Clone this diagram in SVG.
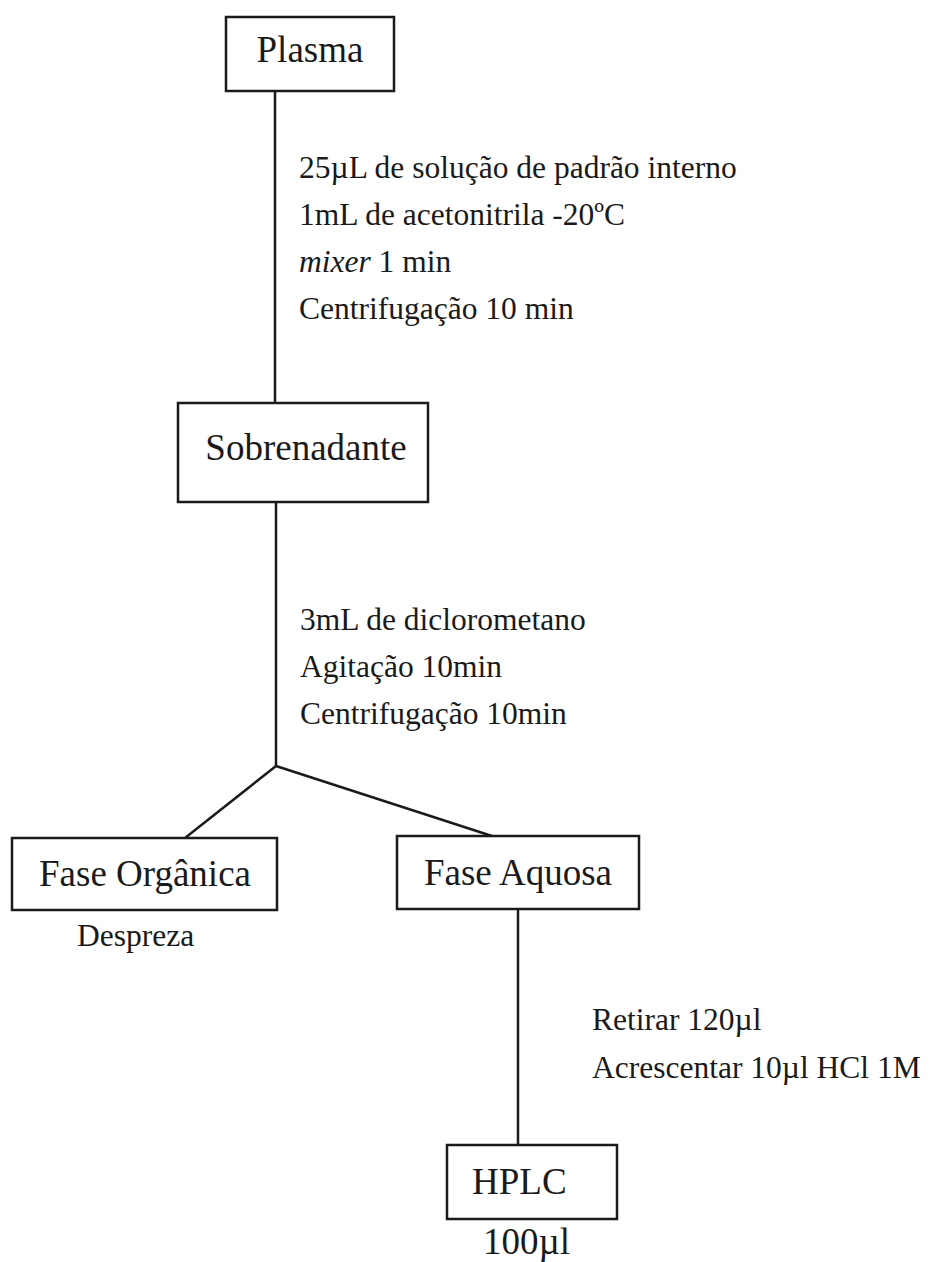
<svg xmlns="http://www.w3.org/2000/svg" width="930" height="1262" viewBox="0 0 930 1262">
<style>
.box{fill:#fff;stroke:#1a1a1a;stroke-width:2.5}
.conn{stroke:#1a1a1a;stroke-width:2.5;fill:none}
.lbl{font-family:"Liberation Serif","Times New Roman",serif;fill:#1a1a1a;font-size:37px}
.note{font-family:"Liberation Serif","Times New Roman",serif;fill:#1a1a1a;font-size:31.5px}
</style>
<rect width="930" height="1262" fill="#fff"/>
<g id="connectors">
<line class="conn" x1="275" y1="91" x2="275" y2="403"/>
<line class="conn" x1="276" y1="502" x2="276" y2="766"/>
<line class="conn" x1="276" y1="766" x2="185" y2="838"/>
<line class="conn" x1="276" y1="766" x2="492" y2="836"/>
<line class="conn" x1="518" y1="909" x2="518" y2="1145"/>
</g>
<g id="notes1">
<text class="note" x="299" y="178">25µL de solução de padrão interno</text>
<text class="note" x="299" y="225">1mL de acetonitrila -20ºC</text>
<text class="note" x="299" y="272"><tspan font-style="italic">mixer</tspan> 1 min</text>
<text class="note" x="299" y="319">Centrifugação 10 min</text>
</g>
<g id="notes2">
<text class="note" x="300" y="630">3mL de diclorometano</text>
<text class="note" x="300" y="677">Agitação 10min</text>
<text class="note" x="300" y="724">Centrifugação 10min</text>
</g>
<g id="notes3">
<text class="note" x="592" y="1030">Retirar 120µl</text>
<text class="note" x="592" y="1078">Acrescentar 10µl HCl 1M</text>
</g>
<g id="plasma">
<rect class="box" x="226" y="17" width="168" height="74"/>
<text class="lbl" x="310" y="62" text-anchor="middle">Plasma</text>
</g>
<g id="sobrenadante">
<rect class="box" x="178" y="403" width="250" height="99"/>
<text class="lbl" x="306" y="460" text-anchor="middle">Sobrenadante</text>
</g>
<g id="fase-organica">
<rect class="box" x="12" y="838" width="265" height="72"/>
<text class="lbl" x="145" y="886" text-anchor="middle">Fase Orgânica</text>
<text class="note" x="77" y="946" font-size="30">Despreza</text>
</g>
<g id="fase-aquosa">
<rect class="box" x="397" y="836" width="242" height="73"/>
<text class="lbl" x="518" y="885" text-anchor="middle">Fase Aquosa</text>
</g>
<g id="hplc">
<rect class="box" x="447" y="1145" width="170" height="74"/>
<text class="lbl" x="472" y="1194">HPLC</text>
<text class="lbl" x="483" y="1254" font-size="32">100µl</text>
</g>
</svg>
